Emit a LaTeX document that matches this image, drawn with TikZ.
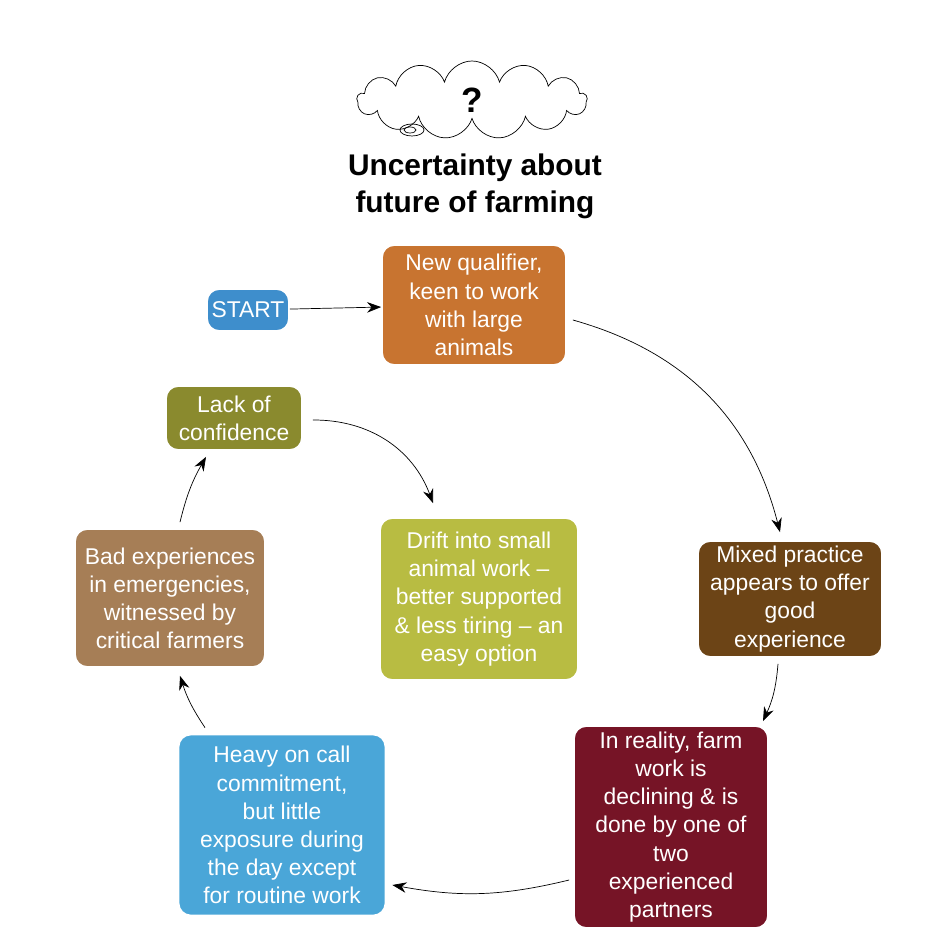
\documentclass[tikz,border=0pt]{standalone}
\usepackage{fontspec}
\setmainfont{Liberation Sans}
\usetikzlibrary{shapes.symbols, arrows.meta, positioning, calc}
\definecolor{startcolor}{RGB}{62, 142, 204}
\definecolor{qualcolor}{RGB}{200, 116, 48}
\definecolor{lackcolor}{RGB}{138, 138, 46}
\definecolor{driftcolor}{RGB}{184, 188, 66}
\definecolor{badcolor}{RGB}{166, 126, 86}
\definecolor{mixedcolor}{RGB}{108, 68, 22}
\definecolor{heavycolor}{RGB}{74, 166, 216}
\definecolor{realcolor}{RGB}{118, 20, 38}
\tikzstyle{box} = [rectangle, rounded corners=7pt, draw=white, line width=1pt, text=white, align=center, font=\fontsize{13}{16}\selectfont, inner sep=2pt]
\tikzstyle{arrow} = [thin,-{Stealth[length=8pt,width=6pt]}]
\begin{document}
\begin{tikzpicture}[x=0.02cm, y=-0.02cm]
    \useasboundingbox (0,0) rectangle (928,952);
    % Title
    \node[cloud, cloud puffs=13, aspect=3, draw, thin, minimum width=230*0.02cm, minimum height=72*0.02cm, font=\bfseries\fontsize{20}{20}\selectfont] (cloud) at (472,100) {?};
    \draw[thin] (412,130) ellipse (12 and 6) (410,130) ellipse (6 and 3);
    \node[font=\bfseries\fontsize{17}{21}\selectfont, align=center] (title) at (475,186) {Uncertainty about\\future of farming};

    % Boxes
    \node[box, fill=startcolor, minimum width=82*0.02cm, minimum height=42*0.02cm] (start) at (248,310) {START};
    \node[box, fill=qualcolor, minimum width=184*0.02cm, minimum height=120*0.02cm] (qual) at (474,305) {New qualifier,\\keen to work\\with large\\animals};
    \node[box, fill=lackcolor, minimum width=136*0.02cm, minimum height=64*0.02cm] (lack) at (234,418) {Lack of\\confidence};
    \node[box, fill=driftcolor, minimum width=198*0.02cm, minimum height=162*0.02cm] (drift) at (479,599) {Drift into small\\animal work --\\better supported\\\& less tiring -- an\\easy option};
    \node[box, fill=badcolor, minimum width=190*0.02cm, minimum height=138*0.02cm] (bad) at (170,598) {Bad experiences\\in emergencies,\\witnessed by\\critical farmers};
    \node[box, fill=mixedcolor, minimum width=184*0.02cm, minimum height=116*0.02cm] (mixed) at (790,599) {Mixed practice\\appears to offer\\good\\experience};
    \node[box, fill=heavycolor, minimum width=207*0.02cm, minimum height=181*0.02cm] (heavy) at (282,825) {Heavy on call\\commitment,\\but little\\exposure during\\the day except\\for routine work};
    \node[box, fill=realcolor, minimum width=194*0.02cm, minimum height=202*0.02cm] (real) at (671,827) {In reality, farm\\work is\\declining \& is\\done by one of\\two\\experienced\\partners};

    % Arrows
    \draw[arrow] (start) -- (qual);
    \draw[arrow] ($(qual.east)+(6,15)$) to[bend left=30] ($(mixed.north)+(-10,-8)$);
    \draw[arrow] ($(mixed.south)+(-12,6)$) to[bend left=10] ($(real.north)+(92,-4)$);
    \draw[arrow] ($(real.west)+(-4,53)$) to[bend left=12] ($(heavy.east)+(6,60)$);
    \draw[arrow] ($(heavy.north)+(-77,-6)$) to[bend left=8] ($(bad.south)+(10,8)$);
    \draw[arrow] ($(bad.north)+(10,-6)$) to[bend left=8] ($(lack.south)+(-28,6)$);
    \draw[arrow] ($(lack.east)+(10,2)$) to[bend left=35] ($(drift.north)+(-46,-14)$);
\end{tikzpicture}
\end{document}
